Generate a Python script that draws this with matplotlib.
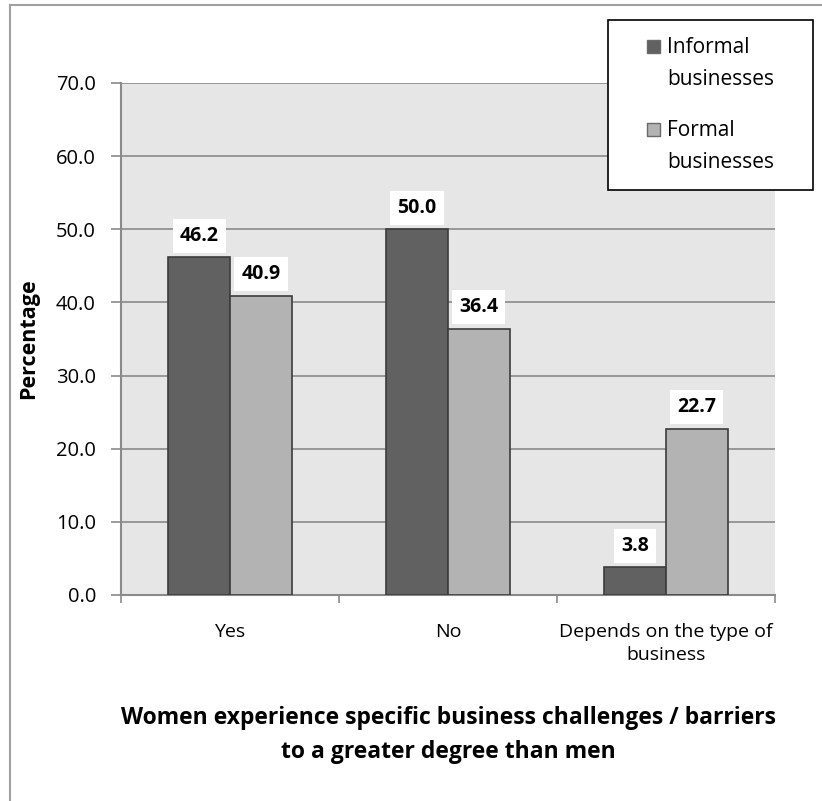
import numpy as np
import matplotlib.pyplot as plt
from matplotlib.lines import Line2D
from matplotlib.patches import Patch, Rectangle

plt.rcParams['font.family'] = ['Open Sans', 'DejaVu Sans']

categories = ["Yes", "No", "Depends on the type of\nbusiness"]
informal = [46.2, 50.0, 3.8]
formal = [40.9, 36.4, 22.7]
series_names = ["Informal\nbusinesses", "Formal\nbusinesses"]
yticks = [0, 10, 20, 30, 40, 50, 60, 70]

dark, light, edge = '#616161', '#b3b3b3', '#3c3c3c'


class TopSquare:
    """legend handle: small square aligned with first text line"""
    def __init__(self, dy=12.6, size=9.5):
        self.dy = dy
        self.size = size

    def legend_artist(self, legend, orig_handle, fontsize, handlebox):
        x0, y0 = handlebox.xdescent, handlebox.ydescent
        w, h = handlebox.width, handlebox.height
        s = self.size
        p = Rectangle((-x0 + w/2 - s/2, -y0 + h/2 - s/2 + self.dy), s, s,
                      facecolor=orig_handle.get_facecolor(), edgecolor='#6a6a6a',
                      linewidth=1.0, transform=handlebox.get_transform())
        handlebox.add_artist(p)
        return p


fig = plt.figure(figsize=(8.22, 8.01), dpi=100)
ax = fig.add_axes([121/822, 1 - 595/801, 654/822, 512/801])
ax.set_facecolor('#e6e6e6')

x = np.arange(len(categories))
w = 0.284
b1 = ax.bar(x - w/2, informal, w, color=dark, edgecolor=edge, linewidth=1.2, zorder=3)
b2 = ax.bar(x + w/2, formal, w, color=light, edgecolor=edge, linewidth=1.2, zorder=3)

for bars, vals in ((b1, informal), (b2, formal)):
    for r, v in zip(bars, vals):
        ax.annotate(f"{v:.1f}", (r.get_x() + r.get_width()/2, v), xytext=(0, 15.5),
                    textcoords='offset points', ha='center', va='center',
                    fontsize=14, fontweight='bold', zorder=4,
                    bbox=dict(facecolor='white', edgecolor='none', pad=5))

ax.set_xlim(-0.5, 2.5)
ax.set_ylim(0, 70)
ax.set_yticks(yticks)
ax.set_yticklabels([f"{t:.1f}" for t in yticks], fontsize=14.5)
ax.yaxis.grid(True, color='#8a8a8a', linewidth=1.2, zorder=0)
ax.set_axisbelow(True)

ax.set_xticks([-0.5, 0.5, 1.5, 2.5])
ax.set_xticklabels([])
ax.set_xticks(x, minor=True)
ax.set_xticklabels(categories, minor=True, fontsize=14, linespacing=1.4)
ax.tick_params(axis='x', which='minor', length=0, pad=20)
ax.tick_params(axis='x', which='major', length=6, color='#8a8a8a', width=1.2)
ax.tick_params(axis='y', length=7, color='#8a8a8a', width=1.2, pad=11)

for s in ('top', 'right'):
    ax.spines[s].set_visible(False)
for s in ('left', 'bottom'):
    ax.spines[s].set_color('#8a8a8a')
    ax.spines[s].set_linewidth(1.5)

ax.set_ylabel("Percentage", fontsize=15.5, fontweight='bold', labelpad=12)
fig.text(448/822, 1 - 735/801,
         "Women experience specific business challenges / barriers\nto a greater degree than men",
         ha='center', va='center', fontsize=16.5, fontweight='bold', linespacing=1.55)

handles = [Patch(facecolor=dark), Patch(facecolor=light)]
sq = TopSquare()
leg = fig.legend(handles, series_names, loc='upper left',
                 bbox_to_anchor=(608/822, 1 - 20/801, 205/822, 0), mode='expand',
                 handler_map={h: sq for h in handles},
                 fontsize=15, frameon=True, fancybox=False, edgecolor='black', framealpha=1,
                 handlelength=2.8, handletextpad=-0.75,
                 labelspacing=1.45, borderpad=0.8, borderaxespad=0)
leg.get_frame().set_linewidth(1.2)
for t in leg.get_texts():
    t.set_linespacing(1.7)

# outer chart border (left and top)
fig.add_artist(Line2D([10/822, 10/822], [0, 1 - 5/801], transform=fig.transFigure,
                      color='#a0a0a0', linewidth=1.5))
fig.add_artist(Line2D([10/822, 1], [1 - 5/801, 1 - 5/801], transform=fig.transFigure,
                      color='#a0a0a0', linewidth=1.5))

fig.savefig("out.png", dpi=100)
